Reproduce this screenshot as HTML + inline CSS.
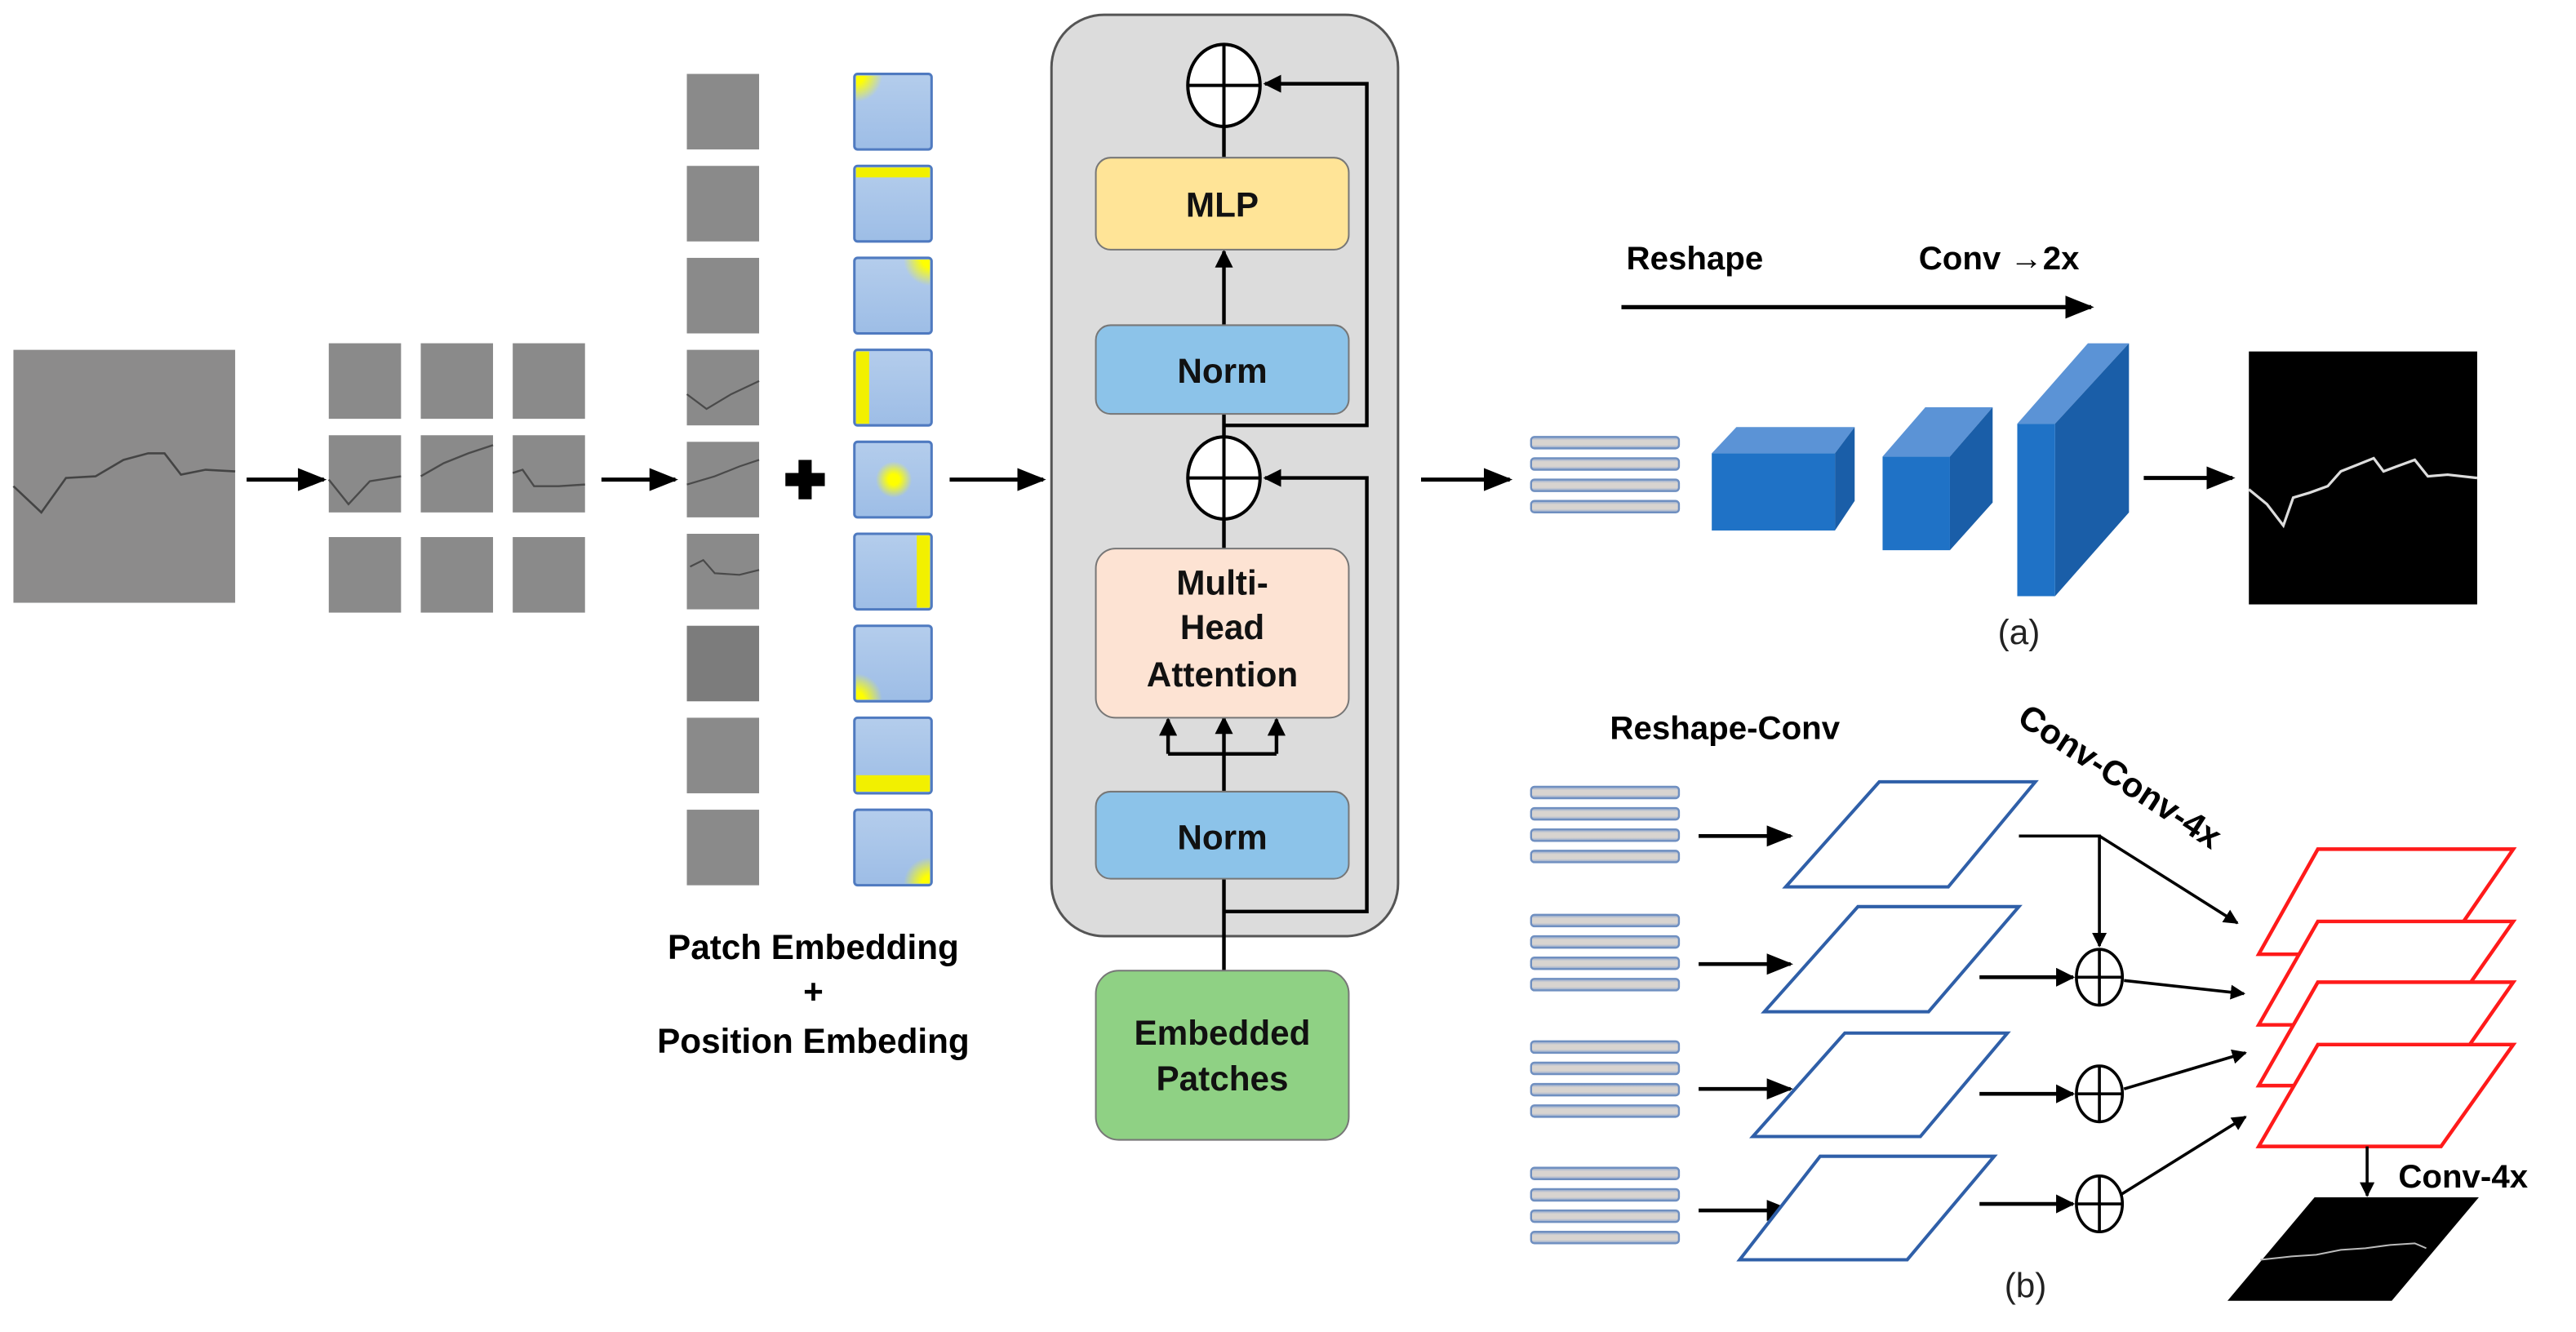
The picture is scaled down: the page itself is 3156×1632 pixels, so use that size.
<!DOCTYPE html>
<html><head><meta charset="utf-8"><style>
html,body{margin:0;padding:0;background:#fff;}
svg{display:block;}
text{font-family:"Liberation Sans",sans-serif;}
</style></head><body>
<svg width="3156" height="1632" viewBox="0 0 1568 811" xmlns="http://www.w3.org/2000/svg">
<defs>
<marker id="ah" viewBox="0 0 10 10" refX="9" refY="5" markerWidth="5" markerHeight="5" orient="auto"><path d="M0,0L10,5L0,10z" fill="#000"/></marker>
<marker id="as" viewBox="0 0 10 10" refX="9" refY="5" markerWidth="7" markerHeight="7" orient="auto"><path d="M0,1L10,5L0,9z" fill="#000"/></marker>
<linearGradient id="pb" x1="0" y1="0" x2="0" y2="1"><stop offset="0" stop-color="#b4cdec"/><stop offset="1" stop-color="#9dbde6"/></linearGradient>
<radialGradient id="yc"><stop offset="0.3" stop-color="#ffff00"/><stop offset="1" stop-color="#ffff00" stop-opacity="0"/></radialGradient>
<linearGradient id="bar" x1="0" y1="0" x2="0" y2="1"><stop offset="0" stop-color="#8aa4cf"/><stop offset="0.3" stop-color="#d8d4d0"/><stop offset="0.7" stop-color="#d8d4d0"/><stop offset="1" stop-color="#8aa4cf"/></linearGradient>
<clipPath id="c1"><rect x="521" y="46" width="45" height="44"/></clipPath>
<clipPath id="c3"><rect x="521" y="158" width="45" height="44"/></clipPath>
<clipPath id="c5"><rect x="521" y="270" width="45" height="44"/></clipPath>
<clipPath id="c7"><rect x="521" y="382" width="45" height="44"/></clipPath>
<clipPath id="c9"><rect x="521" y="494" width="45" height="44"/></clipPath>
<g id="bars"><rect x="0" y="0" width="90" height="7" rx="2" fill="url(#bar)" stroke="#6f8fc0" stroke-width="1.2"/></g>
<g id="bg4"><use href="#bars" y="0"/><use href="#bars" y="13"/><use href="#bars" y="26"/><use href="#bars" y="39"/></g>
</defs>
<rect width="1568" height="811" fill="#fff"/>

<!-- input image -->
<rect x="8" y="213" width="135" height="154" fill="#8c8b8b"/>
<polyline points="8,296 25,312 40,291 58,290 75,280 90,276 100,276 110,289 125,286 143,287" fill="none" stroke="#444" stroke-width="1.3"/>
<line x1="150" y1="292" x2="197" y2="292" stroke="#000" stroke-width="2.5" marker-end="url(#as)"/>

<!-- 3x3 grid -->
<g fill="#8a8a8a">
<rect x="200" y="209" width="44" height="46"/><rect x="256" y="209" width="44" height="46"/><rect x="312" y="209" width="44" height="46"/>
<rect x="200" y="265" width="44" height="47"/><rect x="256" y="265" width="44" height="47"/><rect x="312" y="265" width="44" height="47"/>
<rect x="200" y="327" width="44" height="46"/><rect x="256" y="327" width="44" height="46"/><rect x="312" y="327" width="44" height="46"/>
</g>
<g fill="none" stroke="#4a4a4a" stroke-width="1.2">
<polyline points="200,292 212,307 225,293 244,290"/><polyline points="256,290 270,282 285,276 300,271"/><polyline points="312,288 318,286 325,296 340,296 356,295"/>
</g>
<line x1="366" y1="292" x2="411" y2="292" stroke="#000" stroke-width="2.5" marker-end="url(#as)"/>

<!-- patch column -->
<g fill="#8a8a8a">
<rect x="418" y="45" width="44" height="46"/><rect x="418" y="101" width="44" height="46"/><rect x="418" y="157" width="44" height="46"/>
<rect x="418" y="213" width="44" height="46"/><rect x="418" y="269" width="44" height="46"/><rect x="418" y="325" width="44" height="46"/>
<rect x="418" y="381" width="44" height="46" fill="#7c7c7c"/><rect x="418" y="437" width="44" height="46"/><rect x="418" y="493" width="44" height="46"/>
</g>
<g fill="none" stroke="#4a4a4a" stroke-width="1.1">
<polyline points="418,240 430,249 445,240 462,232"/><polyline points="418,295 435,290 450,284 462,280"/><polyline points="420,345 428,341 435,349 450,350 462,347"/>
</g>
<!-- plus -->
<path d="M486,280h8v8h8v8h-8v8h-8v-8h-8v-8h8z" fill="#000"/>
<!-- position embedding column -->
<g stroke="#4f7ac0" stroke-width="1.5">
<rect x="520" y="45" width="47" height="46" rx="2" fill="url(#pb)"/>
<rect x="520" y="101" width="47" height="46" rx="2" fill="url(#pb)"/>
<rect x="520" y="157" width="47" height="46" rx="2" fill="url(#pb)"/>
<rect x="520" y="213" width="47" height="46" rx="2" fill="url(#pb)"/>
<rect x="520" y="269" width="47" height="46" rx="2" fill="url(#pb)"/>
<rect x="520" y="325" width="47" height="46" rx="2" fill="url(#pb)"/>
<rect x="520" y="381" width="47" height="46" rx="2" fill="url(#pb)"/>
<rect x="520" y="437" width="47" height="46" rx="2" fill="url(#pb)"/>
<rect x="520" y="493" width="47" height="46" rx="2" fill="url(#pb)"/>
</g>
<g>
<circle cx="521" cy="46" r="16" fill="url(#yc)" clip-path="url(#c1)"/>
<rect x="521" y="102" width="45" height="6" fill="#f2f000"/>
<circle cx="566" cy="158" r="16" fill="url(#yc)" clip-path="url(#c3)"/>
<rect x="521" y="214" width="8" height="44" fill="#f2f000"/>
<circle cx="544" cy="292" r="11" fill="url(#yc)" clip-path="url(#c5)"/>
<rect x="558" y="326" width="8" height="44" fill="#f2f000"/>
<circle cx="521" cy="426" r="16" fill="url(#yc)" clip-path="url(#c7)"/>
<rect x="521" y="472" width="45" height="10" fill="#f2f000"/>
<circle cx="566" cy="538" r="16" fill="url(#yc)" clip-path="url(#c9)"/>
</g>
<text x="495" y="584" font-size="21" font-weight="bold" text-anchor="middle">Patch Embedding</text>
<text x="495" y="611" font-size="21" font-weight="bold" text-anchor="middle">+</text>
<text x="495" y="641" font-size="21" font-weight="bold" text-anchor="middle">Position Embeding</text>
<line x1="578" y1="292" x2="635" y2="292" stroke="#000" stroke-width="2.5" marker-end="url(#as)"/>

<!-- transformer -->
<rect x="640" y="9" width="211" height="561" rx="32" fill="#dcdcdc" stroke="#555" stroke-width="1.5"/>
<g stroke="#000" stroke-width="2.2" fill="none">
<line x1="745" y1="694" x2="745" y2="535"/>
<polyline points="745,555 832,555 832,291 770,291" marker-end="url(#ah)"/>
<line x1="745" y1="482" x2="745" y2="437" marker-end="url(#ah)"/>
<polyline points="711,459 777,459"/>
<line x1="711" y1="459" x2="711" y2="438" marker-end="url(#ah)"/>
<line x1="777" y1="459" x2="777" y2="438" marker-end="url(#ah)"/>
<line x1="745" y1="334" x2="745" y2="316"/>
<line x1="745" y1="266" x2="745" y2="252"/>
<polyline points="745,259 832,259 832,51 770,51" marker-end="url(#ah)"/>
<line x1="745" y1="198" x2="745" y2="153" marker-end="url(#ah)"/>
<line x1="745" y1="96" x2="745" y2="77"/>
</g>
<rect x="667" y="96" width="154" height="56" rx="9" fill="#ffe497" stroke="#777" stroke-width="1"/>
<rect x="667" y="198" width="154" height="54" rx="9" fill="#8cc3e9" stroke="#777" stroke-width="1"/>
<rect x="667" y="334" width="154" height="103" rx="12" fill="#fde3d3" stroke="#777" stroke-width="1"/>
<rect x="667" y="482" width="154" height="53" rx="9" fill="#8cc3e9" stroke="#777" stroke-width="1"/>
<rect x="667" y="591" width="154" height="103" rx="14" fill="#8fd184" stroke="#777" stroke-width="1"/>
<g stroke="#000" stroke-width="2" fill="#fff">
<ellipse cx="745" cy="52" rx="22" ry="25"/><line x1="723" y1="52" x2="767" y2="52"/><line x1="745" y1="27" x2="745" y2="77"/>
<ellipse cx="745" cy="291" rx="22" ry="25"/><line x1="723" y1="291" x2="767" y2="291"/><line x1="745" y1="266" x2="745" y2="316"/>
</g>
<g font-size="21" font-weight="bold" text-anchor="middle" fill="#111">
<text x="744" y="132">MLP</text>
<text x="744" y="233">Norm</text>
<text x="744" y="362">Multi-</text>
<text x="744" y="389">Head</text>
<text x="744" y="418">Attention</text>
<text x="744" y="517">Norm</text>
<text x="744" y="636">Embedded</text>
<text x="744" y="664">Patches</text>
</g>

<!-- (a) -->
<line x1="865" y1="292" x2="919" y2="292" stroke="#000" stroke-width="2.5" marker-end="url(#as)"/>
<text x="990" y="164" font-size="20" font-weight="bold">Reshape</text>
<text x="1168" y="164" font-size="20" font-weight="bold">Conv →2x</text>
<line x1="987" y1="187" x2="1273" y2="187" stroke="#000" stroke-width="2.5" marker-end="url(#as)"/>
<use href="#bg4" x="932" y="266"/>
<polygon points="1042,276 1117,276 1129,260 1057,260" fill="#5b93d6"/>
<polygon points="1117,276 1129,260 1129,305 1117,323" fill="#1a5ea8"/>
<rect x="1042" y="276" width="75" height="47" fill="#1f72c6"/>
<polygon points="1146,278 1187,278 1213,248 1172,248" fill="#5b93d6"/>
<polygon points="1187,278 1213,248 1213,306 1187,335" fill="#1a5ea8"/>
<rect x="1146" y="278" width="41" height="57" fill="#1f72c6"/>
<polygon points="1228,258 1251,258 1296,209 1271,209" fill="#5b93d6"/>
<polygon points="1251,258 1296,209 1296,312 1251,363" fill="#1a5ea8"/>
<rect x="1228" y="258" width="23" height="105" fill="#1f72c6"/>
<line x1="1305" y1="291" x2="1359" y2="291" stroke="#000" stroke-width="2.5" marker-end="url(#as)"/>
<rect x="1369" y="214" width="139" height="154" fill="#000"/>
<polyline points="1369,298 1380,307 1390,320 1396,303 1406,300 1417,296 1425,287 1435,283 1445,279 1451,287 1459,284 1470,280 1478,290 1490,289 1508,291" fill="none" stroke="#ddd" stroke-width="1.6"/>
<text x="1229" y="392" font-size="21" text-anchor="middle" fill="#222">(a)</text>

<!-- (b) -->
<text x="980" y="450" font-size="20" font-weight="bold">Reshape-Conv</text>
<text x="1227" y="440" font-size="21" font-weight="bold" transform="rotate(33 1227 440)">Conv-Conv-4x</text>
<use href="#bg4" x="932" y="479"/>
<use href="#bg4" x="932" y="557"/>
<use href="#bg4" x="932" y="634"/>
<use href="#bg4" x="932" y="711"/>
<g stroke="#000" stroke-width="2.3" fill="none">
<line x1="1034" y1="509" x2="1090" y2="509" marker-end="url(#as)"/>
<line x1="1034" y1="587" x2="1090" y2="587" marker-end="url(#as)"/>
<line x1="1034" y1="663" x2="1090" y2="663" marker-end="url(#as)"/>
<line x1="1034" y1="737" x2="1090" y2="737" marker-end="url(#as)"/>
</g>
<g stroke="#2f5fa8" stroke-width="2" fill="#fff">
<polygon points="1144,476 1239,476 1186,540 1087,540"/>
<polygon points="1131,552 1229,552 1174,616 1074,616"/>
<polygon points="1123,629 1222,629 1169,692 1067,692"/>
<polygon points="1108,704 1214,704 1161,767 1059,767"/>
</g>
<g stroke="#ff1a1a" stroke-width="2.2" fill="#fff">
<polygon points="1411,517 1530,517 1486,581 1375,581"/>
<polygon points="1411,561 1530,561 1486,624 1375,624"/>
<polygon points="1411,598 1530,598 1486,661 1375,661"/>
<polygon points="1411,636 1530,636 1486,698 1375,698"/>
</g>
<g stroke="#000" stroke-width="1.8" fill="none">
<polyline points="1229,509 1278,509 1278,576" marker-end="url(#ah)"/>
<line x1="1278" y1="509" x2="1362" y2="562" marker-end="url(#ah)"/>
<line x1="1205" y1="595" x2="1262" y2="595" stroke-width="2.3" marker-end="url(#ah)"/>
<line x1="1205" y1="666" x2="1262" y2="666" stroke-width="2.3" marker-end="url(#ah)"/>
<line x1="1205" y1="733" x2="1262" y2="733" stroke-width="2.3" marker-end="url(#ah)"/>
<line x1="1293" y1="597" x2="1366" y2="605" marker-end="url(#ah)"/>
<line x1="1293" y1="663" x2="1367" y2="641" marker-end="url(#ah)"/>
<line x1="1290" y1="728" x2="1367" y2="680" marker-end="url(#ah)"/>
<line x1="1441" y1="698" x2="1441" y2="728" marker-end="url(#ah)"/>
</g>
<g stroke="#000" stroke-width="1.8" fill="#fff">
<ellipse cx="1278" cy="595" rx="14" ry="17"/><line x1="1264" y1="595" x2="1292" y2="595"/><line x1="1278" y1="578" x2="1278" y2="612"/>
<ellipse cx="1278" cy="666" rx="14" ry="17"/><line x1="1264" y1="666" x2="1292" y2="666"/><line x1="1278" y1="649" x2="1278" y2="683"/>
<ellipse cx="1278" cy="733" rx="14" ry="17"/><line x1="1264" y1="733" x2="1292" y2="733"/><line x1="1278" y1="716" x2="1278" y2="750"/>
</g>
<polygon points="1409,729 1509,729 1456,792 1356,792" fill="#000"/>
<polyline points="1376,767 1395,765 1410,764 1425,761 1440,760 1455,758 1470,757 1477,760" fill="none" stroke="#bbb" stroke-width="1"/>
<text x="1460" y="723" font-size="20" font-weight="bold">Conv-4x</text>
<text x="1233" y="790" font-size="21" text-anchor="middle" fill="#222">(b)</text>
</svg>
</body></html>
